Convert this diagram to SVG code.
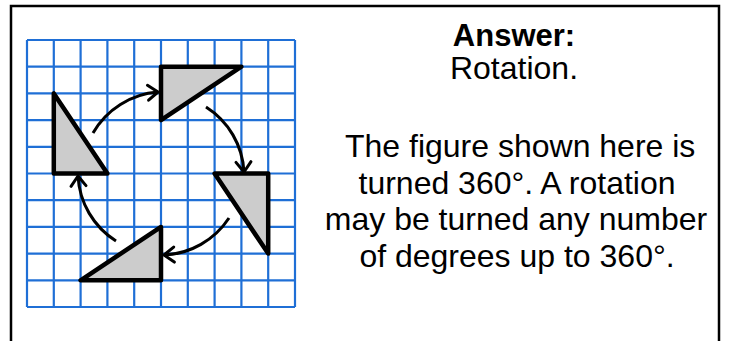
<svg xmlns="http://www.w3.org/2000/svg" width="730" height="341" viewBox="0 0 730 341">
<style>
.grid line{stroke:#1f6fd6;stroke-width:2.2}
.tri{fill:#cccccc;stroke:#000;stroke-width:4.5;stroke-linejoin:round}
.arc{fill:none;stroke:#000;stroke-width:3;marker-end:url(#chev)}
.t{font-family:"Liberation Sans",Arial,sans-serif;font-size:32px;text-anchor:middle;fill:#000}
.b{font-weight:bold;font-size:31px}
</style>
<defs>
<marker id="chev" markerUnits="userSpaceOnUse" markerWidth="24" markerHeight="24" refX="0" refY="0" viewBox="-12 -12 24 24" orient="auto" overflow="visible">
<path d="M -10 -7.5 L 0 0 L -10 7.5" fill="none" stroke="#000" stroke-width="3" stroke-linecap="round" stroke-linejoin="round"/>
</marker>
</defs>
<rect x="11" y="6" width="708" height="360" fill="#fff" stroke="#000" stroke-width="2.5"/>
<g id="grid" class="grid">
<line x1="27" y1="40" x2="27" y2="307"/>
<line x1="53.8" y1="40" x2="53.8" y2="307"/>
<line x1="80.6" y1="40" x2="80.6" y2="307"/>
<line x1="107.4" y1="40" x2="107.4" y2="307"/>
<line x1="134.2" y1="40" x2="134.2" y2="307"/>
<line x1="161" y1="40" x2="161" y2="307"/>
<line x1="187.8" y1="40" x2="187.8" y2="307"/>
<line x1="214.6" y1="40" x2="214.6" y2="307"/>
<line x1="241.4" y1="40" x2="241.4" y2="307"/>
<line x1="268.2" y1="40" x2="268.2" y2="307"/>
<line x1="295" y1="40" x2="295" y2="307"/>
<line x1="27" y1="40" x2="295" y2="40"/>
<line x1="27" y1="66.7" x2="295" y2="66.7"/>
<line x1="27" y1="93.4" x2="295" y2="93.4"/>
<line x1="27" y1="120.1" x2="295" y2="120.1"/>
<line x1="27" y1="146.8" x2="295" y2="146.8"/>
<line x1="27" y1="173.5" x2="295" y2="173.5"/>
<line x1="27" y1="200.2" x2="295" y2="200.2"/>
<line x1="27" y1="226.9" x2="295" y2="226.9"/>
<line x1="27" y1="253.6" x2="295" y2="253.6"/>
<line x1="27" y1="280.3" x2="295" y2="280.3"/>
<line x1="27" y1="307" x2="295" y2="307"/>
</g>
<g id="tri-top"><polygon class="tri" points="161,66.7 241.4,66.7 161,120.1"/></g>
<g id="tri-left"><polygon class="tri" points="53.8,93.4 53.8,173.5 107.4,173.5"/></g>
<g id="tri-right"><polygon class="tri" points="214.6,173.5 268.2,173.5 268.2,253.6"/></g>
<g id="tri-bottom"><polygon class="tri" points="80.6,280.3 161,280.3 161,226.9"/></g>
<g id="connectors">
<path class="arc" d="M 93 133 A 82 82 0 0 1 158 92"/>
<path class="arc" d="M 206 107 A 82 82 0 0 1 244 172"/>
<path class="arc" d="M 229 218 A 82 82 0 0 1 164 255"/>
<path class="arc" d="M 116 241 A 82 82 0 0 1 78 176"/>
</g>
<g id="answer">
<text class="t b" x="514" y="46">Answer:</text>
<text class="t" x="514" y="79">Rotation.</text>
<text class="t" x="516" y="157" xml:space="preserve"> The figure shown here is</text>
<text class="t" x="517" y="193.5">turned 360°. A rotation</text>
<text class="t" x="516" y="230">may be turned any number</text>
<text class="t" x="517" y="266.5">of degrees up to 360°.</text>
</g>
</svg>
